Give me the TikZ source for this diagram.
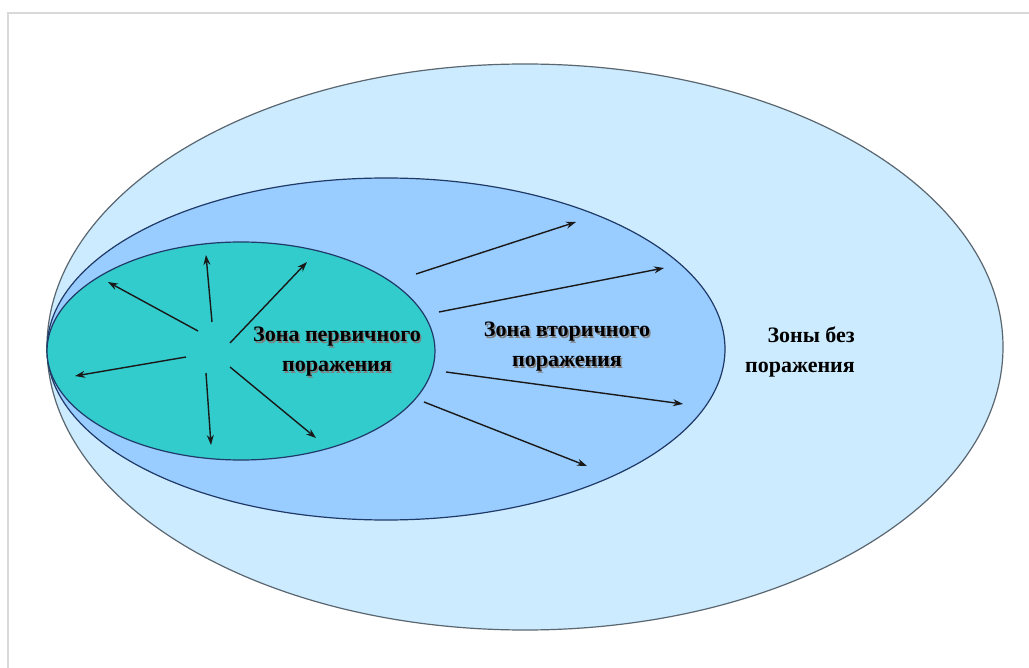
\documentclass[tikz,border=0pt]{standalone}
\usepackage{fontspec}
\setmainfont{Liberation Serif}
\usetikzlibrary{arrows.meta,shapes.geometric}
\definecolor{zoneouter}{HTML}{CCEBFF}
\definecolor{zonemid}{HTML}{99CCFF}
\definecolor{zoneinner}{HTML}{33CCCC}
\definecolor{rimgray}{HTML}{5A6670}
\definecolor{rimblue}{HTML}{1F3A66}
\definecolor{framegray}{HTML}{D9D9D9}
\tikzset{
    every node/.style={font=\bfseries\fontsize{22}{30}\selectfont},
    zone/.style={ellipse,inner sep=0pt,line width=1.2pt},
    zonelabel/.style={align=center,inner sep=0pt},
    textshadow/.style={zonelabel,text=black!50},
    spread/.style={-{Stealth[length=10pt,width=7pt]},line width=1.4pt,black!90}
}
\begin{document}
\begin{tikzpicture}[x=1pt,y=-1pt]
\useasboundingbox (0,0) rectangle (1029,668);
\fill[white] (0,0) rectangle (1029,668);
\draw[framegray,line width=2pt] (8,668) -- (8,13) -- (1029,13);
\node[zone,draw=rimgray,fill=zoneouter,minimum width=956pt,minimum height=566pt] (outer) at (525,347) {};
\node[zone,draw=rimblue,fill=zonemid,minimum width=678pt,minimum height=342pt] (middle) at (386,349) {};
\node[zone,draw=rimblue,fill=zoneinner,minimum width=388pt,minimum height=218pt] (inner) at (241,351) {};
\foreach \i/\xa/\ya/\xb/\yb in {1/198/331/108/282,2/212/322/206/255,3/230/343/307/262,
    4/186/357/75/376,5/206/373/211/445,6/230/367/316/438,
    7/416/274/576/222,8/439/312/664/268,9/446/372/683/404,10/424/402/587/466}{
    \coordinate (s\i) at (\xa,\ya);
    \coordinate (e\i) at (\xb,\yb);
    \draw[spread] (s\i) -- (e\i);
}
\node[textshadow] (primshadow) at (338.5,353.5) {Зона первичного\\поражения};
\node[zonelabel] (prim) at (337,352) {Зона первичного\\поражения};
\node[textshadow] (secshadow) at (568.5,348.5) {Зона вторичного\\поражения};
\node[zonelabel] (sec) at (567,347) {Зона вторичного\\поражения};
\node[zonelabel,align=right] (safe) at (800,352) {Зоны без\\поражения};
\end{tikzpicture}
\end{document}
